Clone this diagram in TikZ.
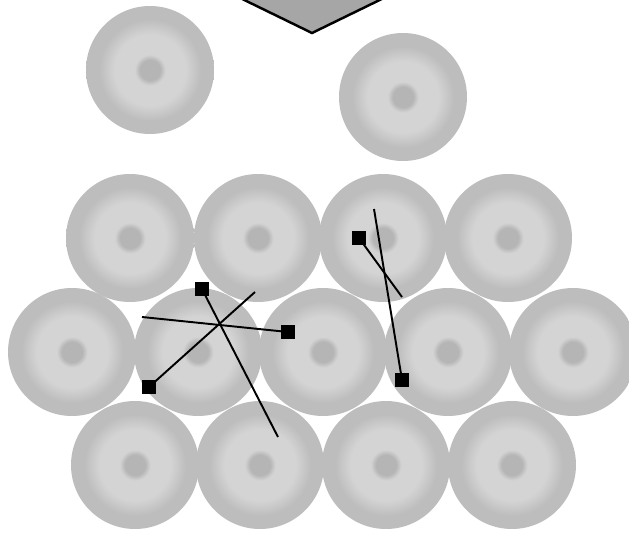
\documentclass[tikz,border=0pt]{standalone}
\usepackage{tikz}
\usetikzlibrary{shapes,positioning,calc}
\usepackage{xcolor}

\pgfdeclareradialshading{discshade}{\pgfpoint{0bp}{0bp}}{%
  color(0bp)=(gray!58); color(4bp)=(gray!58); color(6bp)=(gray!34);
  color(14bp)=(gray!34); color(20bp)=(gray!52); color(40bp)=(gray!52);
  color(46bp)=(gray!40); color(50bp)=(gray!28)}

\begin{document}
\begin{tikzpicture}[
  x=0.02cm, y=-0.02cm,
  disc/.style={circle, minimum size=2.56cm, inner sep=0pt, shading=discshade},
  marker/.style={rectangle, fill=black, minimum size=0.28cm, inner sep=0pt},
  ray/.style={line width=1.1pt, black}
]
  \clip (0,0) rectangle (629,534);
  \fill[white] (0,0) rectangle (629,534);
  \filldraw[fill=gray!70, draw=black, line width=1.4pt] (232,-6) -- (392,-6) -- (312,33) -- cycle;
  \node[disc] (d1) at (150,70) {};
  \node[disc] (d2) at (403,97) {};
  \node[disc] (d3) at (130,238) {};
  \node[disc] (d4) at (258,238) {};
  \node[disc] (d5) at (383,238) {};
  \node[disc] (d6) at (508,238) {};
  \node[disc] (d7) at (72,352) {};
  \node[disc] (d8) at (198,352) {};
  \node[disc] (d9) at (323,352) {};
  \node[disc] (d10) at (448,352) {};
  \node[disc] (d11) at (573,352) {};
  \node[disc] (d12) at (135,465) {};
  \node[disc] (d13) at (260,465) {};
  \node[disc] (d14) at (386,465) {};
  \node[disc] (d15) at (512,465) {};
  \node[marker] (m1) at (202,289) {};
  \node[marker] (m2) at (288,332) {};
  \node[marker] (m3) at (149,387) {};
  \node[marker] (m4) at (359,238) {};
  \node[marker] (m5) at (402,380) {};
  \coordinate (e1) at (278,437);
  \coordinate (e2) at (142,317);
  \coordinate (e3) at (255,292);
  \coordinate (e4) at (402,297);
  \coordinate (e5) at (374,209);
  \draw[ray] (m1.center) -- (e1);
  \draw[ray] (e2) -- (m2.center);
  \draw[ray] (m3.center) -- (e3);
  \draw[ray] (m4.center) -- (e4);
  \draw[ray] (e5) -- (m5.center);
\end{tikzpicture}
\end{document}
